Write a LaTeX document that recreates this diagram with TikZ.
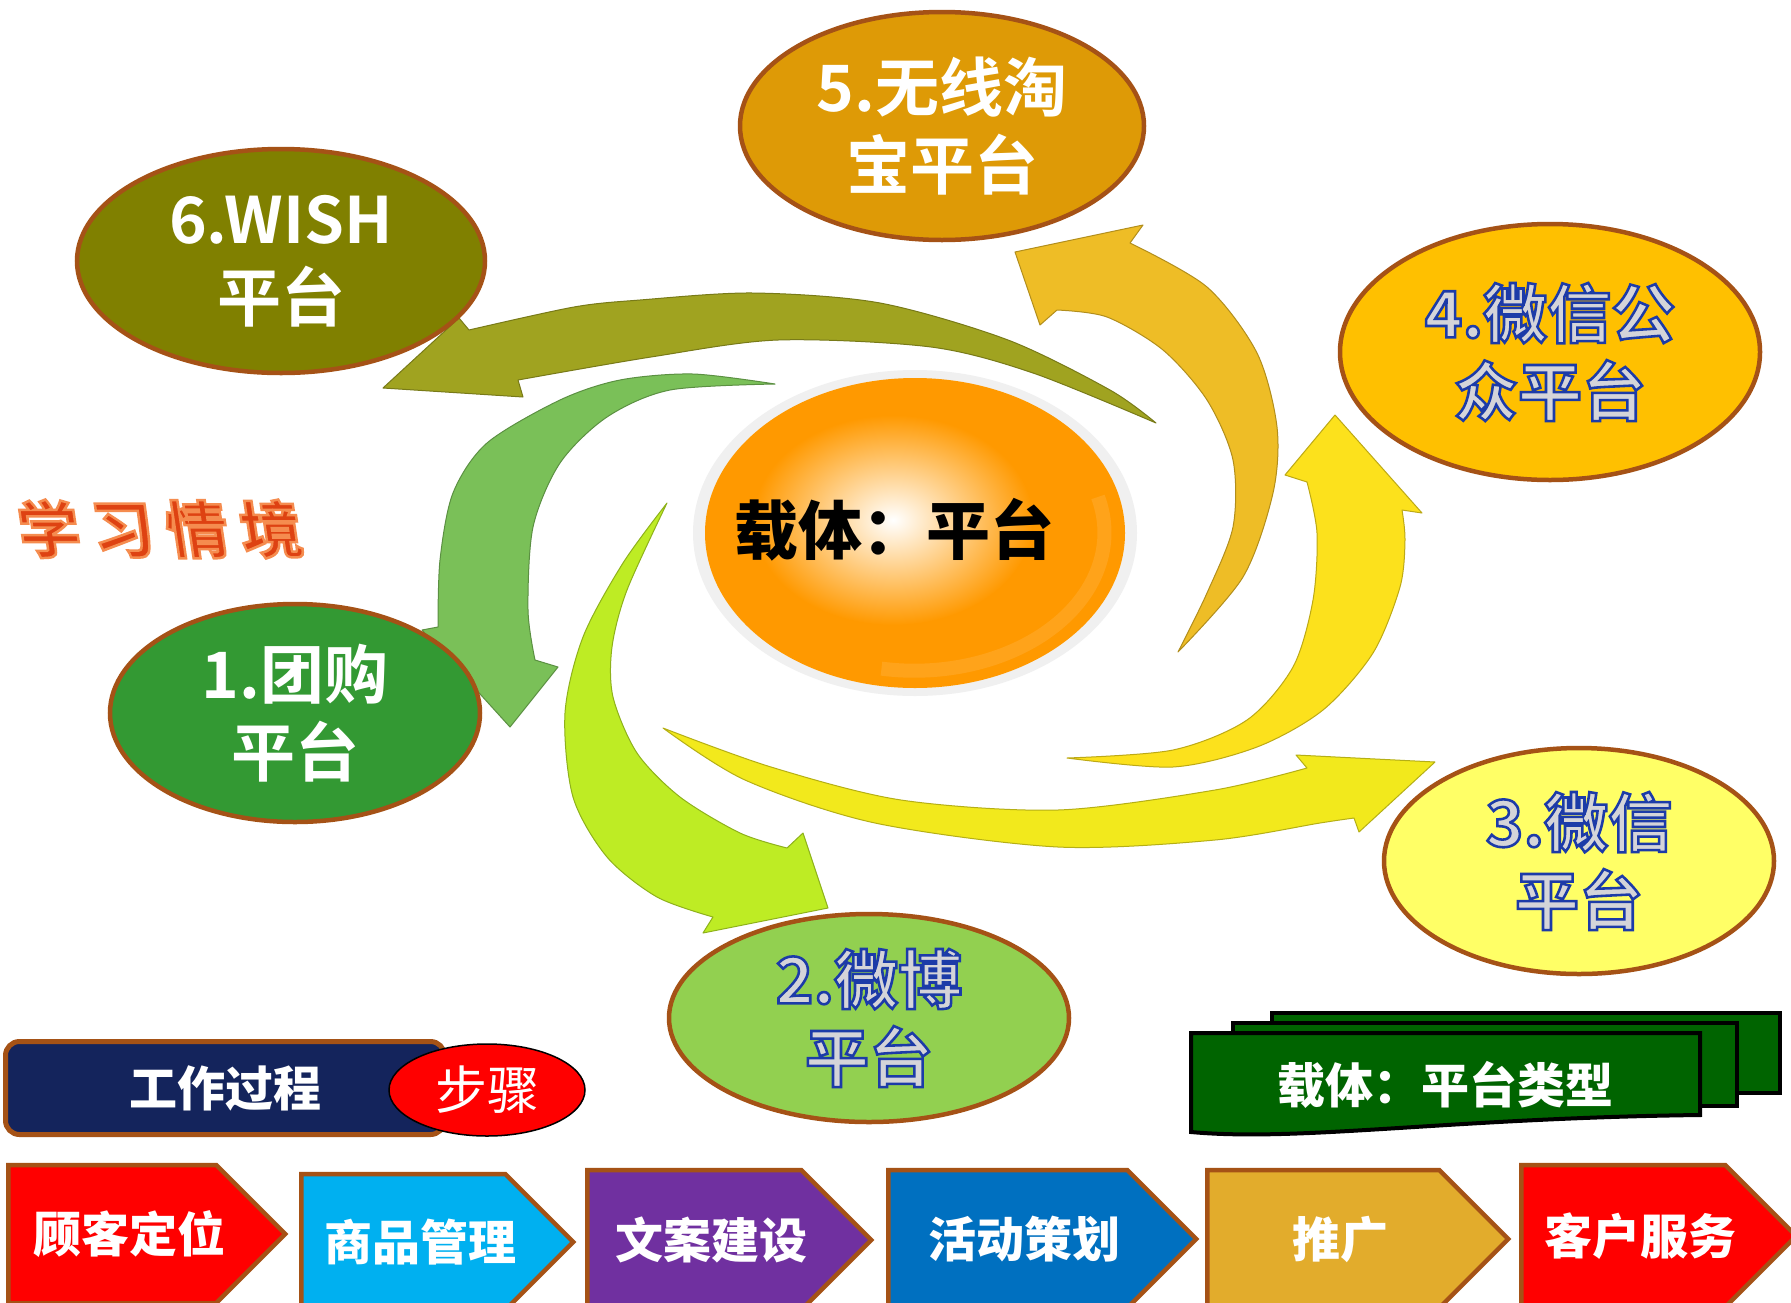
\documentclass[tikz,border=0pt]{standalone}
\usepackage{fontspec}
\usetikzlibrary{shapes.geometric,shapes.symbols,positioning}
\setmainfont{Noto Sans CJK SC}[BoldFont={Noto Sans CJK SC Bold}]
\newfontfamily\heavyfont{Noto Sans CJK SC Black}
\newfontfamily\hollowfont{Noto Sans CJK SC Bold}[FakeBold=4]
% gray letters with a blue rim, and red letters with an orange rim
\newcommand\hollowtext[1]{\special{pdf:bcolor [0.83 0.83 0.85] [0.11 0.23 0.66]}#1\special{pdf:ecolor}}
\newcommand\glowtext[1]{\special{pdf:bcolor [0.87 0.26 0.07] [0.96 0.55 0.31]}#1\special{pdf:ecolor}}
\definecolor{rimbrown}{RGB}{165,82,22}
\definecolor{wishOlive}{RGB}{128,128,0}
\definecolor{taobaoGold}{RGB}{222,154,6}
\definecolor{publicAmber}{RGB}{255,192,0}
\definecolor{wechatYellow}{RGB}{255,255,102}
\definecolor{weiboGreen}{RGB}{146,208,80}
\definecolor{groupGreen}{RGB}{51,153,51}
\definecolor{coreOrange}{RGB}{255,153,0}
\definecolor{ringgray}{RGB}{240,240,240}
\definecolor{swirlOlive}{RGB}{160,163,32}
\definecolor{swirlGreen}{RGB}{122,192,88}
\definecolor{swirlLime}{RGB}{190,236,36}
\definecolor{swirlYellow}{RGB}{242,233,28}
\definecolor{swirlSun}{RGB}{252,225,28}
\definecolor{swirlGold}{RGB}{238,189,38}
\definecolor{processNavy}{RGB}{20,36,92}
\definecolor{bannerGreen}{RGB}{0,100,0}
\definecolor{stepRed}{RGB}{255,0,0}
\definecolor{stepCyan}{RGB}{0,176,240}
\definecolor{stepPurple}{RGB}{112,48,160}
\definecolor{stepBlue}{RGB}{0,112,192}
\definecolor{stepGold}{RGB}{226,172,44}

\begin{document}
\begin{tikzpicture}[x=1pt, y=-1pt,
			plat/.style={ellipse, draw=rimbrown, line width=4.5pt, inner sep=0pt, align=center, font=\bfseries\fontsize{64}{78}\selectfont},
			hollow/.style={font=\hollowfont\fontsize{64}{78}\selectfont},
			swirl/.style={line width=1pt, line join=round},
			stepArrow/.style={signal, signal to=east, signal pointer angle=90, draw=rimbrown, line width=4.5pt, inner sep=0pt, anchor=west, text=white, font=\heavyfont\fontsize{48}{48}\selectfont, execute at end node={\hspace*{-34pt}}},
			flag/.style={draw=black, line width=4pt, fill=bannerGreen}
			]
			\useasboundingbox[fill=white] (0,0) rectangle (1791,1302);
			
			% swirl of arrows round the centre
			\filldraw[swirl, fill=swirlOlive, draw=swirlOlive!75!black]
				plot[smooth] coordinates {(1156,423) (1110,390) (1008,340) (880,303) (753,293) (640,300) (574,307) (469,330)}
				-- (459,318) -- (383,388) -- (523,397)
				-- plot[smooth] coordinates {(518,380) (651,357) (778,340) (931,347) (1033,373) (1156,423)} -- cycle;
			\filldraw[swirl, fill=swirlGreen, draw=swirlGreen!75!black]
				plot[smooth] coordinates {(775,384) (693,374) (620,380) (560,400) (487,443) (453,493) (440,560) (438,627)}
				-- (422,630) -- (510,727) -- (558,667)
				-- plot[smooth] coordinates {(535,660) (528,610) (533,527) (560,463) (607,417) (670,390) (775,384)} -- cycle;
			\filldraw[swirl, fill=swirlLime, draw=swirlLime!75!black]
				plot[smooth] coordinates {(667,503) (623,563) (583,637) (565,713) (573,797) (607,857) (657,897) (713,917)}
				-- (703,933) -- (828,908) -- (803,833)
				-- plot[smooth] coordinates {(787,848) (740,833) (680,797) (637,753) (613,697) (612,647) (627,590) (667,503)} -- cycle;
			\filldraw[swirl, fill=swirlYellow, draw=swirlYellow!75!black]
				plot[smooth] coordinates {(663,728) (745,780) (875,823) (1058,847) (1215,840) (1320,823) (1354,818)}
				-- (1359,832) -- (1435,762) -- (1296,755)
				-- plot[smooth] coordinates {(1307,768) (1215,790) (1058,810) (901,800) (771,767) (663,728)} -- cycle;
			\filldraw[swirl, fill=swirlSun, draw=swirlSun!75!black]
				plot[smooth] coordinates {(1067,758) (1173,767) (1257,747) (1323,710) (1373,653) (1400,587) (1405,540) (1402,510)}
				-- (1422,513) -- (1335,415) -- (1285,475)
				-- plot[smooth] coordinates {(1307,482) (1317,533) (1313,600) (1293,667) (1247,720) (1173,750) (1067,758)} -- cycle;
			\filldraw[swirl, fill=swirlGold, draw=swirlGold!75!black]
				plot[smooth] coordinates {(1178,652) (1243,577) (1273,493) (1277,427) (1257,353) (1207,287) (1130,243)}
				-- (1143,225) -- (1015,252) -- (1040,325)
				-- plot[smooth] coordinates {(1057,310) (1107,317) (1163,350) (1207,400) (1233,460) (1233,527) (1207,593) (1178,652)} -- cycle;
			
			% platforms
			\node[plat, fill=groupGreen, text=white, minimum width=370pt, minimum height=218pt](tuan) at (295,713) {1.团购\\平台};
			\node[plat, hollow, fill=weiboGreen, minimum width=400pt, minimum height=208pt](weibo) at (869,1018) {\hollowtext{2.微博}\\\hollowtext{平台}};
			\node[plat, hollow, fill=wechatYellow, minimum width=390pt, minimum height=226pt](wechat) at (1579,861) {\hollowtext{3.微信}\\\hollowtext{平台}};
			\node[plat, hollow, fill=publicAmber, minimum width=420pt, minimum height=256pt](gzh) at (1550,352) {\hollowtext{4.微信公}\\\hollowtext{众平台}};
			\node[plat, fill=taobaoGold, text=white, minimum width=404pt, minimum height=228pt](taobao) at (942,126) {5.无线淘\\宝平台};
			\node[plat, fill=wishOlive, text=white, minimum width=408pt, minimum height=224pt](wish) at (281,261) {6.WISH\\平台};
			
			% carrier in the middle
			\node[ellipse, fill=ringgray, minimum width=444pt, minimum height=326pt](ring) at (915,533) {};
			\node[ellipse, fill=coreOrange, minimum width=420pt, minimum height=310pt](core) at (915,533) {};
			\shade[inner color=white, outer color=coreOrange] (893,520) ellipse [x radius=140, y radius=105];
			\draw[white, opacity=0.1, line width=14pt] (1098,497) arc[start angle=-15, end angle=100, x radius=190, y radius=138];
			\node[font=\heavyfont\fontsize{64}{64}\selectfont](coreText) at (894,530) {载体：平台};
			
			\node[font=\hollowfont\fontsize{62}{62}\selectfont, xslant=-0.15](title) at (160,529) {\glowtext{学\hspace{12pt}习\hspace{12pt}情\hspace{12pt}境}};
			
			% process bar
			\node[draw=rimbrown, line width=5pt, fill=processNavy, rounded corners=14pt, minimum width=439pt, minimum height=93pt, text=white, font=\heavyfont\fontsize{48}{48}\selectfont](proc) at (225,1088) {工作过程};
			\node[ellipse, draw=black, line width=1.5pt, fill=stepRed, minimum width=196pt, minimum height=92pt, text=white, font=\fontsize{52}{52}\selectfont](steps) at (487,1090) {步骤};
			
			% stacked banner
			\draw[flag] (1272,1013) -- (1780,1013) -- (1780,1093) -- (1272,1093) -- cycle;
			\draw[flag] (1233,1023) -- (1737,1023) -- (1737,1106) -- (1233,1106) -- cycle;
			\draw[flag] (1191,1033) -- (1700,1033) -- (1700,1115) .. controls (1450,1118) and (1300,1142) .. (1191,1132) -- cycle;
			\node[text=white, font=\heavyfont\fontsize{48}{48}\selectfont](bannerText) at (1445,1085) {载体：平台类型};
			
			% steps along the bottom
			\node[stepArrow, fill=stepRed, minimum width=277pt, minimum height=138pt](s1) at (6,1234) {顾客定位};
			\node[stepArrow, fill=stepCyan, minimum width=272pt, minimum height=136pt](s2) at (299,1242) {商品管理};
			\node[stepArrow, fill=stepPurple, minimum width=284pt, minimum height=140pt](s3) at (585,1240) {文案建设};
			\node[stepArrow, fill=stepBlue, minimum width=308pt, minimum height=138pt](s4) at (886,1239) {活动策划};
			\node[stepArrow, fill=stepGold, minimum width=301pt, minimum height=138pt](s5) at (1205,1239) {推广};
			\node[stepArrow, fill=stepRed, minimum width=275pt, minimum height=142pt](s6) at (1519,1236) {客户服务};
\end{tikzpicture}
\end{document}
